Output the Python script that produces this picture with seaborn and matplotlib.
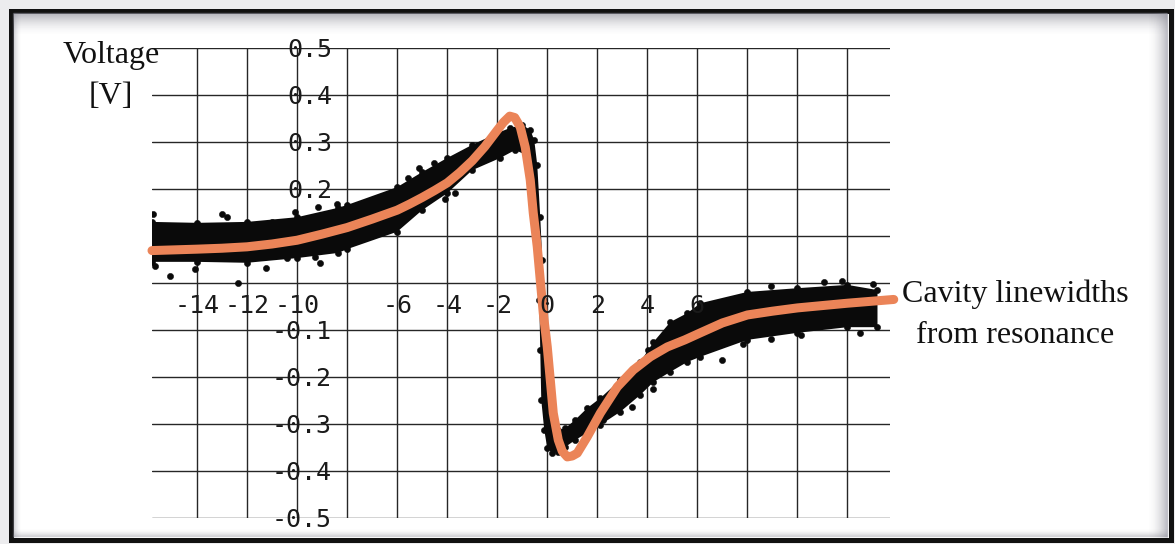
import numpy as np
import matplotlib
matplotlib.use('Agg')
import matplotlib.pyplot as plt
from matplotlib.patches import Rectangle
import seaborn as sns

# fitted curve (orange)
fit_x = [-15.8, -14, -13, -12, -11, -10, -9, -8, -7, -6, -5.5, -5, -4.5, -4, -3.5,
         -3, -2.5, -2, -1.75, -1.5, -1.3, -1.08, -0.88, -0.68, -0.56, -0.4, -0.28,
         -0.16, 0.0, 0.12, 0.24, 0.44, 0.6, 0.8, 1.0, 1.2, 1.6, 2.12, 2.8, 3.44,
         4.12, 4.8, 5.5, 6.12, 7, 8, 9, 10, 11, 12, 13.85]
fit_y = [0.069, 0.072, 0.074, 0.077, 0.083, 0.091, 0.104, 0.118, 0.136, 0.155,
         0.168, 0.182, 0.197, 0.213, 0.235, 0.26, 0.29, 0.325, 0.342, 0.355, 0.352,
         0.332, 0.289, 0.219, 0.149, 0.077, 0.006, -0.064, -0.136, -0.206, -0.277,
         -0.334, -0.358, -0.370, -0.368, -0.362, -0.327, -0.277, -0.221, -0.185,
         -0.157, -0.136, -0.121, -0.106, -0.085, -0.068, -0.060, -0.053, -0.048,
         -0.043, -0.035]

# outline of the measured data cloud (upper edge left->right, lower edge back)
band_x = [-15.8, -14.0, -12.0, -10.0, -8.36, -8.0, -6.0, -5.0, -4.0, -3.0, -2.0,
          -1.48, -1.0, -0.68, -0.52, -0.40, -0.28, -0.20, -0.12, -0.04, 0.08,
          0.20, 0.44, 0.72, 1.12, 1.6, 2.12, 2.92, 3.72, 4.24, 4.92, 5.6, 6.12,
          8.0, 10.0, 12.0, 13.2,
          13.2, 12.0, 10.0, 8.0, 6.12, 5.6, 4.92, 4.24, 3.72, 2.92, 2.12, 1.6,
          1.12, 0.72, 0.44, 0.20, 0.0, -0.12, -0.24, -0.28, -0.32, -0.40, -0.48,
          -0.60, -0.84, -1.28, -1.88, -3.0, -4.0, -5.0, -6.0, -8.0, -8.36, -10.0,
          -12.0, -14.0, -15.8]
band_y = [0.130, 0.128, 0.130, 0.140, 0.160, 0.166, 0.204, 0.236, 0.266, 0.294,
          0.319, 0.330, 0.336, 0.326, 0.304, 0.251, 0.140, 0.049, -0.036, -0.143,
          -0.249, -0.302, -0.313, -0.309, -0.291, -0.266, -0.245, -0.206, -0.168,
          -0.126, -0.083, -0.064, -0.043, -0.019, -0.011, -0.004, -0.015,
          -0.094, -0.094, -0.106, -0.121, -0.157, -0.168, -0.189, -0.211, -0.238,
          -0.274, -0.302, -0.319, -0.334, -0.349, -0.360, -0.362, -0.351, -0.313,
          -0.249, -0.143, -0.036, 0.070, 0.177, 0.240, 0.272, 0.283, 0.266, 0.240,
          0.191, 0.155, 0.109, 0.072, 0.064, 0.053, 0.043, 0.045, 0.045]

# stray points outside the dense cloud
stray_x = [-15.76, -13.0, -12.8, -11.0, -10.08, -9.16, -8.4, -15.08, -15.68,
           -14.08, -12.36, -11.24, -10.4, -9.28, -9.08, -5.56, -5.12, -4.52,
           -3.68, -4.08, 2.24, 3.4, 4.24, 4.04, 5.04, 7.84, 7.0, 8.96, 10.16,
           12.52, 8.96, 11.08, 11.8, 13.04]
stray_y = [0.147, 0.147, 0.140, 0.130, 0.151, 0.162, 0.168, 0.015, 0.036,
           0.030, 0.000, 0.032, 0.053, 0.055, 0.043, 0.223, 0.245, 0.255,
           0.191, 0.179, -0.291, -0.264, -0.226, -0.143, -0.094, -0.130, -0.164,
           -0.119, -0.111, -0.106, -0.006, 0.002, 0.004, -0.002]

x_ticks = [-14, -12, -10, -8, -6, -4, -2, 0, 2, 4, 6, 8, 10, 12]
x_labels = ['-14', '-12', '-10', '', '-6', '-4', '-2', '0', '2', '4', '6', '', '', '']
y_ticks = [0.5, 0.4, 0.3, 0.2, 0.1, 0.0, -0.1, -0.2, -0.3, -0.4, -0.5]
y_labels = ['0.5', '0.4', '0.3', '0.2', '', '', '-0.1', '-0.2', '-0.3', '-0.4', '-0.5']

sns.set_style('white')
plt.rcParams['font.family'] = ['DejaVu Sans']

W, H = 1175, 544
fig = plt.figure(figsize=(W / 100, H / 100), dpi=100)

# frame with a soft inner shadow
bg = fig.add_axes([0, 0, 1, 1], zorder=0)
bg.set_xlim(0, W)
bg.set_ylim(H, 0)
bg.axis('off')
bg.add_patch(Rectangle((0, 0), W, H, color='#ececee'))
bg.add_patch(Rectangle((10.5, 10.5), 1160, 529, facecolor='white', edgecolor='#111111', lw=3.6))
for i in range(22):
    a = 0.55 * (1 - i / 22) ** 2
    bg.plot([13, 1167], [13 + i, 13 + i], color='#8e8e9a', alpha=a, lw=1, solid_capstyle='butt')
for i in range(20):
    a = 0.5 * (1 - i / 20) ** 2
    bg.plot([1167 - i, 1167 - i], [13, 537], color='#8e8e9a', alpha=a, lw=1, solid_capstyle='butt')
for i in range(8):
    a = 0.35 * (1 - i / 8) ** 2
    bg.plot([13 + i, 13 + i], [13, 537], color='#8e8e9a', alpha=a, lw=1, solid_capstyle='butt')
    bg.plot([13, 1167], [536 - i, 536 - i], color='#8e8e9a', alpha=a, lw=1, solid_capstyle='butt')

ax = fig.add_axes([152 / W, 26 / H, 738 / W, 470 / H], zorder=1)
ax.patch.set_alpha(0)
ax.set_xlim(-15.8, 13.7)
ax.set_ylim(-0.5, 0.5)
ax.set_xticks(x_ticks)
ax.set_yticks(y_ticks)
ax.grid(True, color='#262626', lw=1.0)
ax.set_axisbelow(True)
ax.tick_params(length=0, labelbottom=False, labelleft=False)
for s in ax.spines.values():
    s.set_visible(False)

# data cloud
ax.fill(band_x, band_y, color='#0a0a0a', lw=0, zorder=2)
sns.scatterplot(x=band_x, y=band_y, ax=ax, color='#0a0a0a', s=20, edgecolor=None, zorder=2)
sns.scatterplot(x=stray_x, y=stray_y, ax=ax, color='#0a0a0a', s=20, edgecolor=None, zorder=2)

# fit
sns.lineplot(x=fit_x, y=fit_y, ax=ax, color='#EB8458', lw=6.5, zorder=3,
             clip_on=False, solid_joinstyle='round')

mono = dict(family='DejaVu Sans Mono', size=18, color='#1a1a1a', zorder=4)
for v, t in zip(x_ticks, x_labels):
    if t:
        ax.text(v, -0.064, t, ha='center', va='baseline', **mono)
for v, t in zip(y_ticks, y_labels):
    if t:
        ax.text(-8.6, v - 0.019, t, ha='right', va='baseline', **mono)

serif = dict(family='Liberation Serif', size=23, color='#111111', ha='center', va='baseline')
fig.text(111 / W, 1 - 63 / H, 'Voltage', **serif)
fig.text(111 / W, 1 - 104 / H, '[V]', **serif)
fig.text(1015 / W, 1 - 302 / H, 'Cavity linewidths', **serif)
fig.text(1015 / W, 1 - 343 / H, 'from resonance', **serif)

fig.savefig('out.png', dpi=100)
